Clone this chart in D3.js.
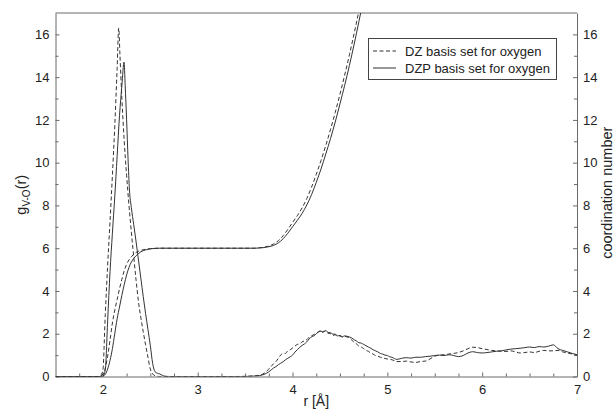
<!DOCTYPE html>
<html>
<head>
<meta charset="utf-8">
<script src="https://cdn.jsdelivr.net/npm/d3@7"></script>
<style>
  html, body { margin: 0; padding: 0; background: #fff; }
  svg { display: block; }
  text { font-family: "Liberation Sans", Arial, sans-serif; fill: #222; }
</style>
</head>
<body>
<svg id="chart" width="615" height="417"></svg>
<script>
// Radial distribution g(r) for the V–O pair, DZ basis for oxygen: [r (Å), g]
const gDZ = [
  [1.50, 0], [1.90, 0], [1.95, 0], [1.975, 0.05], [2.000, 0.30], [2.025, 2.90],
  [2.050, 5.20], [2.075, 7.25], [2.100, 9.40], [2.125, 11.70], [2.150, 14.40],
  [2.167, 16.30], [2.180, 15.00], [2.200, 13.00], [2.225, 11.00], [2.250, 9.40],
  [2.275, 8.00], [2.300, 6.75], [2.325, 5.60], [2.350, 4.50], [2.375, 3.50],
  [2.400, 2.75], [2.425, 2.10], [2.450, 1.48], [2.475, 0.90], [2.500, 0.35],
  [2.525, 0.12], [2.550, 0.03], [2.600, 0], [3.00, 0], [3.40, 0], [3.50, 0.01],
  [3.55, 0.02], [3.60, 0.03], [3.65, 0.06], [3.70, 0.15], [3.75, 0.35], [3.80, 0.60],
  [3.825, 0.70], [3.85, 0.85], [3.875, 1.00], [3.90, 1.09], [3.925, 1.08],
  [3.95, 1.20], [3.975, 1.25], [4.00, 1.33], [4.025, 1.42], [4.05, 1.50],
  [4.075, 1.52], [4.10, 1.62], [4.125, 1.66], [4.15, 1.72], [4.175, 1.84],
  [4.20, 1.90], [4.225, 1.96], [4.25, 2.02], [4.275, 2.10], [4.30, 2.15],
  [4.315, 2.06], [4.33, 2.12], [4.35, 2.10], [4.375, 2.02], [4.40, 2.00],
  [4.425, 1.92], [4.45, 1.95], [4.475, 1.88], [4.50, 1.90], [4.525, 1.84],
  [4.55, 1.88], [4.575, 1.85], [4.60, 1.80], [4.625, 1.70], [4.65, 1.60],
  [4.675, 1.52], [4.70, 1.42], [4.725, 1.38], [4.75, 1.30], [4.775, 1.22],
  [4.80, 1.18], [4.825, 1.10], [4.85, 1.05], [4.875, 0.98], [4.90, 0.95],
  [4.925, 0.90], [4.95, 0.87], [4.975, 0.84], [5.00, 0.82], [5.05, 0.78],
  [5.075, 0.74], [5.10, 0.70], [5.15, 0.70], [5.20, 0.72], [5.25, 0.68],
  [5.30, 0.66], [5.35, 0.70], [5.40, 0.72], [5.45, 0.82], [5.50, 0.95], [5.55, 1.00],
  [5.60, 1.02], [5.65, 1.05], [5.70, 1.08], [5.75, 1.12], [5.80, 1.20], [5.85, 1.30],
  [5.90, 1.37], [5.95, 1.35], [6.00, 1.30], [6.05, 1.26], [6.10, 1.22], [6.15, 1.20],
  [6.20, 1.18], [6.25, 1.17], [6.30, 1.20], [6.35, 1.15], [6.40, 1.10], [6.45, 1.12],
  [6.50, 1.15], [6.55, 1.12], [6.60, 1.18], [6.65, 1.22], [6.70, 1.20], [6.75, 1.20],
  [6.80, 1.22], [6.85, 1.15], [6.90, 1.10], [6.95, 1.05], [7.00, 1.00]
];

// Radial distribution g(r), DZP basis for oxygen
const gDZP = [
  [1.50, 0], [1.975, 0], [2.000, 0.02], [2.025, 0.30], [2.050, 2.60], [2.075, 4.90],
  [2.100, 6.70], [2.125, 8.40], [2.150, 10.30], [2.175, 12.20], [2.200, 13.60],
  [2.223, 14.70], [2.235, 13.60], [2.250, 12.00], [2.265, 10.20], [2.280, 8.73],
  [2.300, 7.90], [2.325, 7.10], [2.350, 6.30], [2.375, 5.45], [2.400, 4.60],
  [2.425, 3.75], [2.450, 2.95], [2.475, 2.20], [2.500, 1.45], [2.525, 0.60],
  [2.550, 0.22], [2.575, 0.15], [2.600, 0.12], [2.625, 0.06], [2.650, 0.02],
  [2.700, 0], [3.00, 0], [3.50, 0],
  [3.55, 0.01], [3.60, 0.02], [3.65, 0.04], [3.70, 0.10], [3.75, 0.22], [3.80, 0.40],
  [3.825, 0.46], [3.85, 0.55], [3.875, 0.62], [3.90, 0.69], [3.925, 0.78],
  [3.95, 0.85], [3.975, 0.92], [4.00, 1.00], [4.025, 1.14], [4.05, 1.25],
  [4.075, 1.36], [4.10, 1.45], [4.125, 1.52], [4.15, 1.62], [4.175, 1.76],
  [4.20, 1.85], [4.225, 1.90], [4.25, 2.00], [4.275, 2.08], [4.30, 2.12],
  [4.325, 2.08], [4.35, 2.15], [4.375, 2.06], [4.40, 2.05], [4.425, 1.98],
  [4.45, 1.98], [4.475, 1.90], [4.50, 1.92], [4.525, 1.86], [4.55, 1.90],
  [4.575, 1.88], [4.60, 1.85], [4.625, 1.80], [4.65, 1.72], [4.675, 1.66],
  [4.70, 1.58], [4.725, 1.56], [4.75, 1.50], [4.775, 1.44], [4.80, 1.38],
  [4.825, 1.32], [4.85, 1.25], [4.875, 1.20], [4.90, 1.15], [4.925, 1.08],
  [4.95, 1.05], [4.975, 1.00], [5.00, 0.98], [5.025, 0.92], [5.05, 0.90],
  [5.075, 0.84], [5.10, 0.80], [5.15, 0.85], [5.20, 0.88], [5.25, 0.86], [5.30, 0.90],
  [5.35, 0.90], [5.40, 0.93], [5.45, 0.95], [5.50, 0.98], [5.55, 1.00], [5.60, 0.98],
  [5.65, 1.02], [5.70, 0.98], [5.75, 0.93], [5.80, 0.98], [5.85, 1.10], [5.90, 1.16],
  [5.95, 1.12], [6.00, 1.10], [6.05, 1.12], [6.10, 1.15], [6.15, 1.18], [6.20, 1.20],
  [6.25, 1.24], [6.30, 1.28], [6.35, 1.30], [6.40, 1.32], [6.45, 1.35], [6.50, 1.38],
  [6.55, 1.35], [6.60, 1.40], [6.65, 1.38], [6.70, 1.42], [6.75, 1.48], [6.80, 1.30],
  [6.85, 1.22], [6.90, 1.15], [6.95, 1.08], [7.00, 1.02]
];

// Running coordination number, DZ basis
const cnDZ = [
  [1.50, 0], [1.95, 0], [1.975, 0.02], [2.000, 0.12], [2.025, 0.40], [2.050, 0.95],
  [2.075, 1.70], [2.100, 2.50], [2.125, 3.10], [2.150, 3.60], [2.175, 4.10],
  [2.200, 4.55], [2.225, 4.95], [2.250, 5.25], [2.275, 5.45], [2.300, 5.60],
  [2.325, 5.72], [2.350, 5.80], [2.400, 5.90], [2.450, 5.95], [2.500, 5.98],
  [2.600, 6.00], [3.00, 6.00], [3.60, 6.00], [3.65, 6.02], [3.70, 6.05], [3.75, 6.10],
  [3.80, 6.20], [3.85, 6.35], [3.90, 6.58], [3.95, 6.88], [4.00, 7.20], [4.05, 7.52],
  [4.10, 7.88], [4.15, 8.32], [4.20, 8.85], [4.25, 9.45], [4.30, 10.10], [4.35, 10.80],
  [4.40, 11.55], [4.45, 12.35], [4.50, 13.20], [4.55, 14.10], [4.60, 15.05],
  [4.65, 16.05], [4.70, 17.10], [4.75, 18.10]
];

// Running coordination number, DZP basis
const cnDZP = [
  [1.50, 0], [1.975, 0], [2.000, 0.02], [2.025, 0.10], [2.050, 0.35], [2.075, 0.75],
  [2.100, 1.30], [2.125, 2.00], [2.150, 2.70], [2.175, 3.25], [2.200, 3.80],
  [2.225, 4.30], [2.250, 4.75], [2.275, 5.10], [2.300, 5.35], [2.325, 5.52],
  [2.350, 5.65], [2.375, 5.75], [2.400, 5.83], [2.450, 5.92], [2.500, 5.97],
  [2.550, 5.99], [2.600, 6.00], [3.00, 6.00], [3.60, 6.00], [3.65, 6.01], [3.70, 6.03],
  [3.75, 6.07], [3.80, 6.13], [3.85, 6.25], [3.90, 6.44], [3.95, 6.70], [4.00, 7.00],
  [4.05, 7.30], [4.10, 7.62], [4.15, 8.02], [4.20, 8.50], [4.25, 9.08], [4.30, 9.70],
  [4.35, 10.40], [4.40, 11.12], [4.45, 11.90], [4.50, 12.75], [4.55, 13.62],
  [4.60, 14.55], [4.65, 15.55], [4.70, 16.60], [4.75, 17.70]
];

const xTicks = [2, 3, 4, 5, 6, 7];
const yTicks = [0, 2, 4, 6, 8, 10, 12, 14, 16];
const legendLabels = ["DZ basis set for oxygen", "DZP basis set for oxygen"];

const svg = d3.select("#chart");
const m = { left: 55.5, right: 577, top: 13, bottom: 376.5 };

const x = d3.scaleLinear().domain([1.5, 7]).range([m.left, m.right]);
const y = d3.scaleLinear().domain([0, 17]).range([m.bottom, m.top]);

const frameColor = "#6a6a6a";
const lineColor = "#333";
const dash = "4,2.5";

svg.append("defs").append("clipPath").attr("id", "plotClip")
  .append("rect")
  .attr("x", m.left).attr("y", m.top)
  .attr("width", m.right - m.left).attr("height", m.bottom - m.top);

// Axes: all ticks point into the plot
const minorX = d3.range(1.75, 7, 0.25).filter(v => Math.abs(v - Math.round(v)) > 1e-6);
const minorY = d3.range(1, 17, 2);

function styleAxis(g) {
  g.selectAll("path.domain").attr("stroke", frameColor);
  g.selectAll(".tick line").attr("stroke", frameColor);
  g.selectAll("text").attr("font-size", 13).attr("fill", "#222")
    .attr("font-family", '"Liberation Sans", Arial, sans-serif');
}

const xAxis = svg.append("g").attr("transform", `translate(0,${m.bottom})`)
  .call(d3.axisBottom(x).tickValues(xTicks).tickFormat(d3.format("d"))
    .tickSizeInner(-4).tickSizeOuter(0).tickPadding(8));
styleAxis(xAxis);
svg.append("g").attr("transform", `translate(0,${m.bottom})`)
  .call(d3.axisBottom(x).tickValues(minorX).tickFormat("").tickSizeInner(-3).tickSizeOuter(0))
  .call(g => { g.select("path.domain").remove(); g.selectAll("line").attr("stroke", frameColor); });

const yLeft = svg.append("g").attr("transform", `translate(${m.left},0)`)
  .call(d3.axisLeft(y).tickValues(yTicks).tickFormat(d3.format("d"))
    .tickSizeInner(-4).tickSizeOuter(0).tickPadding(6));
styleAxis(yLeft);
svg.append("g").attr("transform", `translate(${m.left},0)`)
  .call(d3.axisLeft(y).tickValues(minorY).tickFormat("").tickSizeInner(-3).tickSizeOuter(0))
  .call(g => { g.select("path.domain").remove(); g.selectAll("line").attr("stroke", frameColor); });

const yRight = svg.append("g").attr("transform", `translate(${m.right},0)`)
  .call(d3.axisRight(y).tickValues(yTicks).tickFormat(d3.format("d"))
    .tickSizeInner(-4).tickSizeOuter(0).tickPadding(6));
styleAxis(yRight);
svg.append("g").attr("transform", `translate(${m.right},0)`)
  .call(d3.axisRight(y).tickValues(minorY).tickFormat("").tickSizeInner(-3).tickSizeOuter(0))
  .call(g => { g.select("path.domain").remove(); g.selectAll("line").attr("stroke", frameColor); });

// Top edge of the frame
svg.append("line")
  .attr("x1", m.left).attr("x2", m.right).attr("y1", m.top).attr("y2", m.top)
  .attr("stroke", frameColor);

// Axis titles
svg.append("text")
  .attr("x", (m.left + m.right) / 2).attr("y", 406)
  .attr("text-anchor", "middle").attr("font-size", 14)
  .text("r [Å]");

const gLab = svg.append("text")
  .attr("transform", `translate(26,${(m.top + m.bottom) / 2}) rotate(-90)`)
  .attr("text-anchor", "middle").attr("font-size", 14.5);
gLab.append("tspan").text("g");
gLab.append("tspan").attr("font-size", 10).attr("dy", 4).text("V-O");
gLab.append("tspan").attr("dy", -4).text("(r)");

svg.append("text")
  .attr("transform", `translate(612,${(m.top + m.bottom) / 2 - 2}) rotate(-90)`)
  .attr("text-anchor", "middle").attr("font-size", 14.5)
  .text("coordination number");

// Curves
const line = d3.line().curve(d3.curveMonotoneX).x(d => x(d[0])).y(d => y(d[1]));
const plot = svg.append("g").attr("clip-path", "url(#plotClip)");

const series = [
  { data: gDZ, dashed: true },
  { data: cnDZ, dashed: true },
  { data: gDZP, dashed: false },
  { data: cnDZP, dashed: false }
];
plot.selectAll("path.curve").data(series).join("path")
  .attr("class", "curve")
  .attr("d", d => line(d.data))
  .attr("fill", "none")
  .attr("stroke", lineColor)
  .attr("stroke-width", 1)
  .attr("stroke-dasharray", d => d.dashed ? dash : null);

// Legend
const lg = svg.append("g");
lg.append("rect")
  .attr("x", 368.5).attr("y", 38.5).attr("width", 188).attr("height", 41)
  .attr("fill", "#fff").attr("stroke", "#444");
legendLabels.forEach((lab, i) => {
  const yy = 51 + i * 17;
  lg.append("line")
    .attr("x1", 373).attr("x2", 396).attr("y1", yy).attr("y2", yy)
    .attr("stroke", lineColor)
    .attr("stroke-dasharray", i === 0 ? dash : null);
  lg.append("text")
    .attr("x", 405).attr("y", yy + 4.5)
    .attr("font-size", 13)
    .text(lab);
});
</script>
</body>
</html>
